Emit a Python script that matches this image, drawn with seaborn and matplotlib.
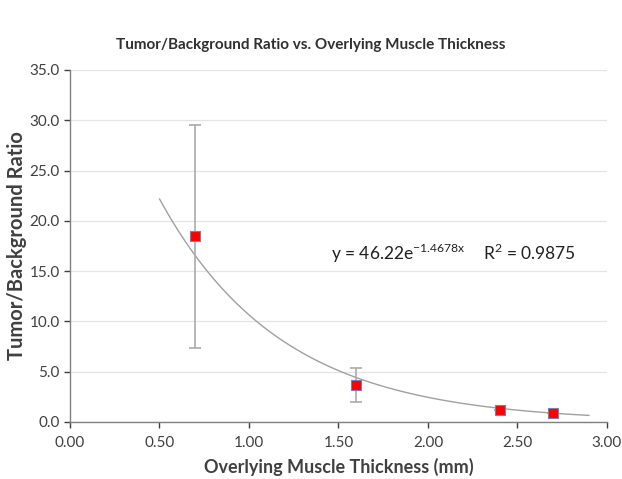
import numpy as np
import pandas as pd
import matplotlib
matplotlib.use('Agg')
import matplotlib.pyplot as plt
import seaborn as sns

# data
thickness = [0.70, 1.60, 2.40, 2.70]
ratio = [18.5, 3.7, 1.2, 0.9]
err_low = [11.1, 1.7, 0.0, 0.0]
err_high = [11.0, 1.7, 0.0, 0.0]

# exponential trendline shown on chart
fit_a = 46.22
fit_b = -1.4678
fit_x = np.linspace(0.5, 2.9, 100)
fit_y = fit_a * np.exp(fit_b * fit_x)

sns.set_style('white')
plt.rcParams['font.family'] = ['Lato', 'DejaVu Sans']

df = pd.DataFrame({'x': thickness, 'y': ratio})
fit = pd.DataFrame({'x': fit_x, 'y': fit_y})

fig = plt.figure(figsize=(6.22, 4.79), dpi=100)
ax = fig.add_axes([0.1125, 0.119, 0.8633, 0.7349])

ax.yaxis.grid(True, color='#e4e4e4', linewidth=0.9)
ax.set_axisbelow(True)

sns.lineplot(data=fit, x='x', y='y', ax=ax, color='#a0a0a0', linewidth=1.0)
ax.errorbar(thickness, ratio, yerr=[err_low, err_high], fmt='none',
            ecolor='#aaaaaa', elinewidth=1.2, capsize=4, capthick=1.2)
sns.scatterplot(data=df, x='x', y='y', ax=ax, marker='s', s=45,
                color='#ff0000', edgecolor='#7b7fb0', linewidth=0.8, zorder=5)

ax.set_xlim(0, 3.0)
ax.set_ylim(0, 35)
ax.set_xticks(np.arange(0, 3.01, 0.5))
ax.set_yticks(np.arange(0, 35.1, 5))
ax.set_xticklabels(['%.2f' % v for v in np.arange(0, 3.01, 0.5)])
ax.set_yticklabels(['%.1f' % v for v in np.arange(0, 35.1, 5)])
ax.tick_params(axis='both', labelsize=11, colors='#404040', direction='out',
               length=4, width=1, bottom=True, left=True)
ax.tick_params(axis='x', pad=6)

for s in ['top', 'right']:
    ax.spines[s].set_visible(False)
for s in ['left', 'bottom']:
    ax.spines[s].set_color('#808080')
    ax.spines[s].set_linewidth(1.0)

ax.set_xlabel('Overlying Muscle Thickness (mm)', fontsize=13, fontweight='bold',
              color='#404040', labelpad=6)
ax.set_ylabel('Tumor/Background Ratio', fontsize=14.5, fontweight='bold',
              color='#404040', labelpad=2)
fig.suptitle('Tumor/Background Ratio vs. Overlying Muscle Thickness', fontsize=11,
             fontweight='bold', color='#303030', y=0.92)

ax.text(1.46, 16.8, r'y = 46.22e$^{\mathregular{-1.4678x}}$', fontsize=12.5,
        color='#202020', va='center')
ax.text(2.31, 16.8, r'R$^{\mathregular{2}}$ = 0.9875', fontsize=12.5,
        color='#202020', va='center')

fig.savefig('out.png', dpi=100)
